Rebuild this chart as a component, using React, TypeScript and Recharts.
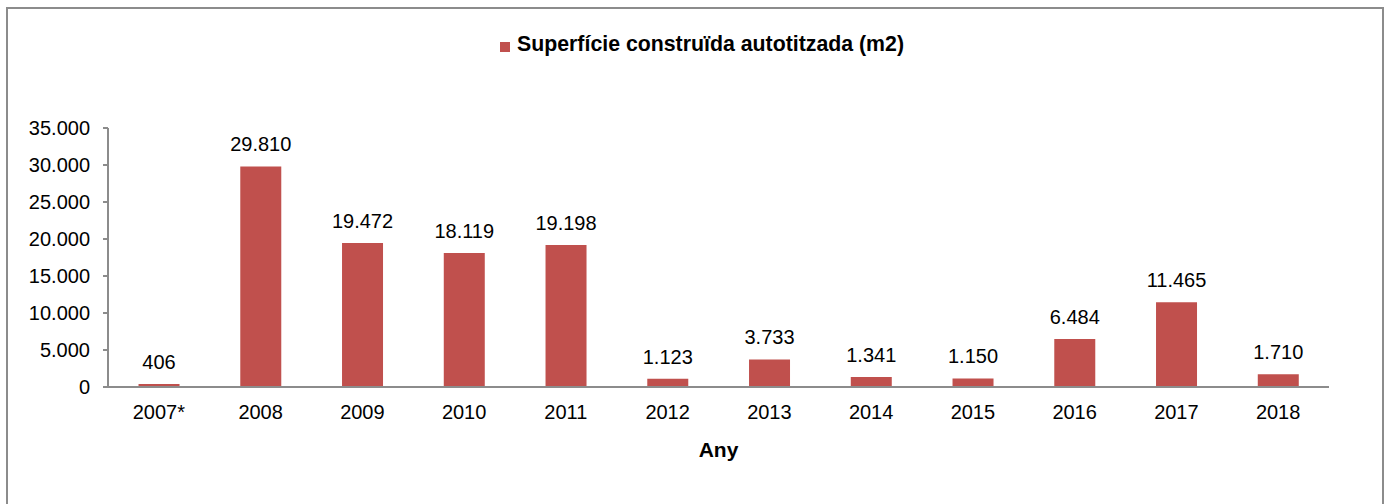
import { BarChart, Bar, XAxis, YAxis, Legend, LabelList } from 'recharts';

const years = ['2007*', '2008', '2009', '2010', '2011', '2012', '2013', '2014', '2015', '2016', '2017', '2018'];
const surface = [406, 29810, 19472, 18119, 19198, 1123, 3733, 1341, 1150, 6484, 11465, 1710];
const yTicks = [0, 5000, 10000, 15000, 20000, 25000, 30000, 35000];

const data = years.map((y, i) => ({ year: y, surface: surface[i] }));

// thousands with a dot, like 29.810
const fmt = (v: number | string) => String(v).replace(/\B(?=(\d{3})+(?!\d))/g, '.');

const FONT = '"Liberation Sans", Arial, sans-serif';
const AXIS = '#8c8c8c';
const RED = '#c0504d';

export default function App() {
    return (
        <div
            style={{
                position: 'absolute',
                left: 6,
                top: 7,
                width: 1374,
                height: 505,
                border: `2px solid ${AXIS}`,
                background: '#fff',
                fontFamily: FONT,
            }}
        >
            <BarChart
                width={1374}
                height={495}
                data={data}
                margin={{ top: 94, right: 53, left: 0, bottom: 0 }}
                barCategoryGap="30%"
            >
                <Legend
                    verticalAlign="top"
                    iconType="square"
                    iconSize={10}
                    wrapperStyle={{ top: 23, left: 449, width: 500, whiteSpace: 'nowrap' }}
                    formatter={(value) => (
                        <span style={{ color: '#000', fontWeight: 'bold', fontSize: 21.3, marginLeft: 3, fontFamily: FONT }}>{value}</span>
                    )}
                />
                <XAxis
                    dataKey="year"
                    height={117}
                    axisLine={{ stroke: AXIS, strokeWidth: 2 }}
                    tickLine={false}
                    tickMargin={12}
                    tick={{ fill: '#000', fontSize: 20, fontFamily: FONT }}
                    label={{ value: 'Any', position: 'insideTop', offset: 55, fill: '#000', fontSize: 21, fontWeight: 'bold', fontFamily: FONT }}
                />
                <YAxis
                    width={100}
                    domain={[0, 35000]}
                    ticks={yTicks}
                    tickFormatter={fmt}
                    axisLine={{ stroke: AXIS, strokeWidth: 2 }}
                    tickLine={{ stroke: AXIS, strokeWidth: 2 }}
                    tickSize={5}
                    tickMargin={13}
                    tick={{ fill: '#000', fontSize: 20, fontFamily: FONT }}
                />
                <Bar dataKey="surface" name="Superfície construïda autotitzada (m2)" fill={RED} isAnimationActive={false}>
                    <LabelList dataKey="surface" position="top" offset={15} formatter={fmt} fill="#000" fontSize={20} fontFamily={FONT} />
                </Bar>
            </BarChart>
        </div>
    );
}
